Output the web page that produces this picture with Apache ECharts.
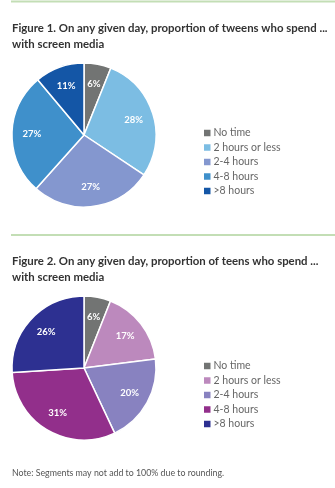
<!DOCTYPE html>
<html>
<head>
<meta charset="utf-8">
<script src="https://cdn.jsdelivr.net/npm/echarts@6/dist/echarts.min.js"></script>
<style>
html,body{margin:0;padding:0;background:#fff;}
#c1{position:absolute;left:0;top:0;width:335px;height:228px;}
#c2{position:absolute;left:0;top:228px;width:335px;height:260px;}
</style>
</head>
<body>
<div id="c1"></div>
<div id="c2"></div>
<script>
// Data
const categories = ['No time', '2 hours or less', '2-4 hours', '4-8 hours', '>8 hours'];
const tweenValues = [6, 28, 27, 27, 11];
const teenValues = [6, 17, 20, 31, 26];
const tweenColors = ['#727473', '#7cbde3', '#8497cf', '#3f90cb', '#1456a6'];
const teenColors = ['#727473', '#bc89bd', '#8882c0', '#922f8b', '#2d3091'];
const title1 = 'Figure 1. On any given day, proportion of tweens who spend ...\nwith screen media';
const title2 = 'Figure 2. On any given day, proportion of teens who spend ...\nwith screen media';
const noteText = 'Note: Segments may not add to 100% due to rounding.';

const FONT = 'Lato, "Open Sans", sans-serif';

function buildOption(title, values, colors, lineY, titleTop, cy, legendTop, note) {
  const main = categories.map((n, i) => ({ name: n, value: values[i], itemStyle: { color: colors[i] } }));
  const over = categories.map((n, i) => ({ name: n, value: values[i] }));
  const graphic = [{
    type: 'line', silent: true,
    shape: { x1: 11, y1: lineY, x2: 335, y2: lineY },
    style: { stroke: '#c3deb5', lineWidth: 2 }
  }];
  if (note) {
    graphic.push({
      type: 'text', left: 12, top: note,
      style: { text: noteText, fill: '#555', font: '8.8px ' + FONT }
    });
  }
  return {
    animation: false,
    title: {
      text: title, left: 7, top: titleTop,
      textStyle: { fontFamily: FONT, fontSize: 11.4, fontWeight: 'bold', color: '#333', lineHeight: 16.5 }
    },
    legend: {
      orient: 'vertical', left: 199, top: legendTop,
      icon: 'rect', itemWidth: 6.5, itemHeight: 6.5, itemGap: 2.5,
      itemStyle: { borderWidth: 0 },
      textStyle: { fontFamily: FONT, fontSize: 10.5, color: '#666', lineHeight: 12, padding: [0, 0, 0, -2] },
      data: categories, selectedMode: false
    },
    graphic: graphic,
    series: [{
      type: 'pie', center: [84, cy], radius: [0, 72], startAngle: 90, clockwise: true,
      silent: true, label: { show: false }, labelLine: { show: false },
      itemStyle: { borderColor: '#fff', borderWidth: 1.5 },
      emphasis: { disabled: true },
      data: main
    }, {
      type: 'pie', center: [84, cy], radius: [26, 72], startAngle: 90, clockwise: true,
      silent: true, emphasis: { disabled: true },
      itemStyle: { color: 'rgba(0,0,0,0)', borderWidth: 0 },
      label: { show: true, position: 'inside', formatter: '{c}%', color: '#fff', fontFamily: FONT, fontSize: 9.5, fontWeight: 'bold' },
      labelLine: { show: false },
      data: over
    }]
  };
}

const c1 = echarts.init(document.getElementById('c1'));
c1.setOption(buildOption(title1, tweenValues, tweenColors, 1.5, 15, 135, 122, null));
const c2 = echarts.init(document.getElementById('c2'));
c2.setOption(buildOption(title2, teenValues, teenColors, 7, 20, 140, 127, 241));
</script>
</body>
</html>
